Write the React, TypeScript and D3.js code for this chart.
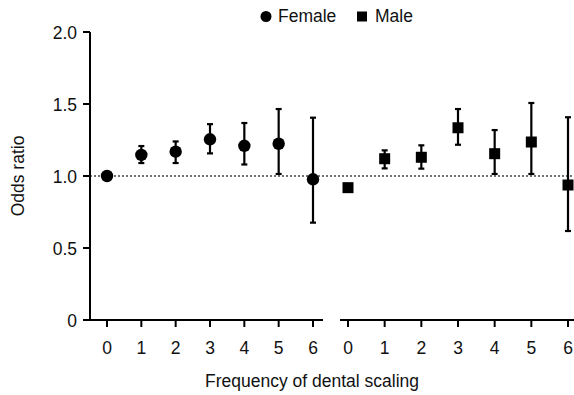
import React from "react";
import * as d3 from "d3";

const categories = ["0", "1", "2", "3", "4", "5", "6"];
const femaleOR = [1.0, 1.146, 1.169, 1.255, 1.21, 1.224, 0.977];
const femaleLow = [1.0, 1.09, 1.09, 1.157, 1.08, 1.014, 0.676];
const femaleHigh = [1.0, 1.208, 1.24, 1.36, 1.368, 1.465, 1.405];
const maleOR = [0.919, 1.12, 1.13, 1.335, 1.155, 1.236, 0.9375];
const maleLow = [0.905, 1.053, 1.051, 1.217, 1.014, 1.014, 0.618];
const maleHigh = [0.933, 1.178, 1.213, 1.465, 1.319, 1.507, 1.408];
const yTicks = [0, 0.5, 1.0, 1.5, 2.0];
const yTickLabels = ["0", "0.5", "1.0", "1.5", "2.0"];

const W = 574;
const H = 395;
const font = "'Liberation Sans', Arial, sans-serif";
const fs = 17.5;

export default function App() {
  const y = d3.scaleLinear().domain([0, 2]).range([320, 32]);
  const xF = d3.scalePoint().domain(categories).range([107, 313]);
  const xM = d3.scalePoint().domain(categories).range([348, 568]);
  const axisX = 90;
  const cap = 3;

  const errBar = (x: number, lo: number, hi: number, key: string) => {
    if (hi - lo < 0.05) return null;
    return (
      <g key={key} stroke="#000" strokeWidth={2.2}>
        <line x1={x} x2={x} y1={y(lo)} y2={y(hi)} />
        <line x1={x - cap} x2={x + cap} y1={y(lo)} y2={y(lo)} />
        <line x1={x - cap} x2={x + cap} y1={y(hi)} y2={y(hi)} />
      </g>
    );
  };

  return (
    <svg width={W} height={H} style={{ position: "absolute", left: 0, top: 0, background: "#fff" }} fontFamily={font} fill="#111">
      {/* legend */}
      <circle cx={266} cy={16.5} r={5.5} fill="#000" />
      <text x={278} y={22} fontSize={fs}>Female</text>
      <rect x={357} y={11.5} width={10} height={10} fill="#000" />
      <text x={375} y={22} fontSize={fs}>Male</text>

      {/* reference line */}
      <line x1={axisX} x2={572} y1={y(1)} y2={y(1)} stroke="#444" strokeWidth={1.5} strokeDasharray="2,2" />

      {/* y axis */}
      <line x1={axisX} x2={axisX} y1={y(2)} y2={y(0)} stroke="#000" strokeWidth={2} />
      {yTicks.map((t, i) => (
        <g key={t}>
          <line x1={axisX - 7} x2={axisX} y1={y(t)} y2={y(t)} stroke="#000" strokeWidth={2} />
          <text x={axisX - 13} y={y(t) + 6.5} fontSize={fs} textAnchor="end">{yTickLabels[i]}</text>
        </g>
      ))}
      <text transform={`translate(24,${y(1)}) rotate(-90)`} fontSize={fs} textAnchor="middle">Odds ratio</text>

      {/* x axes */}
      <line x1={83} x2={323} y1={y(0)} y2={y(0)} stroke="#000" strokeWidth={2} />
      <line x1={340} x2={574} y1={y(0)} y2={y(0)} stroke="#000" strokeWidth={2} />
      {categories.map((c) => (
        <g key={"f" + c}>
          <line x1={xF(c)!} x2={xF(c)!} y1={y(0)} y2={y(0) + 7} stroke="#000" strokeWidth={2} />
          <text x={xF(c)!} y={y(0) + 34} fontSize={fs} textAnchor="middle">{c}</text>
        </g>
      ))}
      {categories.map((c) => (
        <g key={"m" + c}>
          <line x1={xM(c)!} x2={xM(c)!} y1={y(0)} y2={y(0) + 7} stroke="#000" strokeWidth={2} />
          <text x={xM(c)!} y={y(0) + 34} fontSize={fs} textAnchor="middle">{c}</text>
        </g>
      ))}
      <text x={312} y={387} fontSize={fs} textAnchor="middle">Frequency of dental scaling</text>

      {/* female */}
      {categories.map((c, i) => errBar(xF(c)!, femaleLow[i], femaleHigh[i], "fe" + c))}
      {categories.map((c, i) => (
        <circle key={"fp" + c} cx={xF(c)!} cy={y(femaleOR[i])} r={6.2} fill="#000" />
      ))}
      {/* male */}
      {categories.map((c, i) => errBar(xM(c)!, maleLow[i], maleHigh[i], "me" + c))}
      {categories.map((c, i) => (
        <rect key={"mp" + c} x={xM(c)! - 5.5} y={y(maleOR[i]) - 5.5} width={11} height={11} fill="#000" />
      ))}
    </svg>
  );
}
